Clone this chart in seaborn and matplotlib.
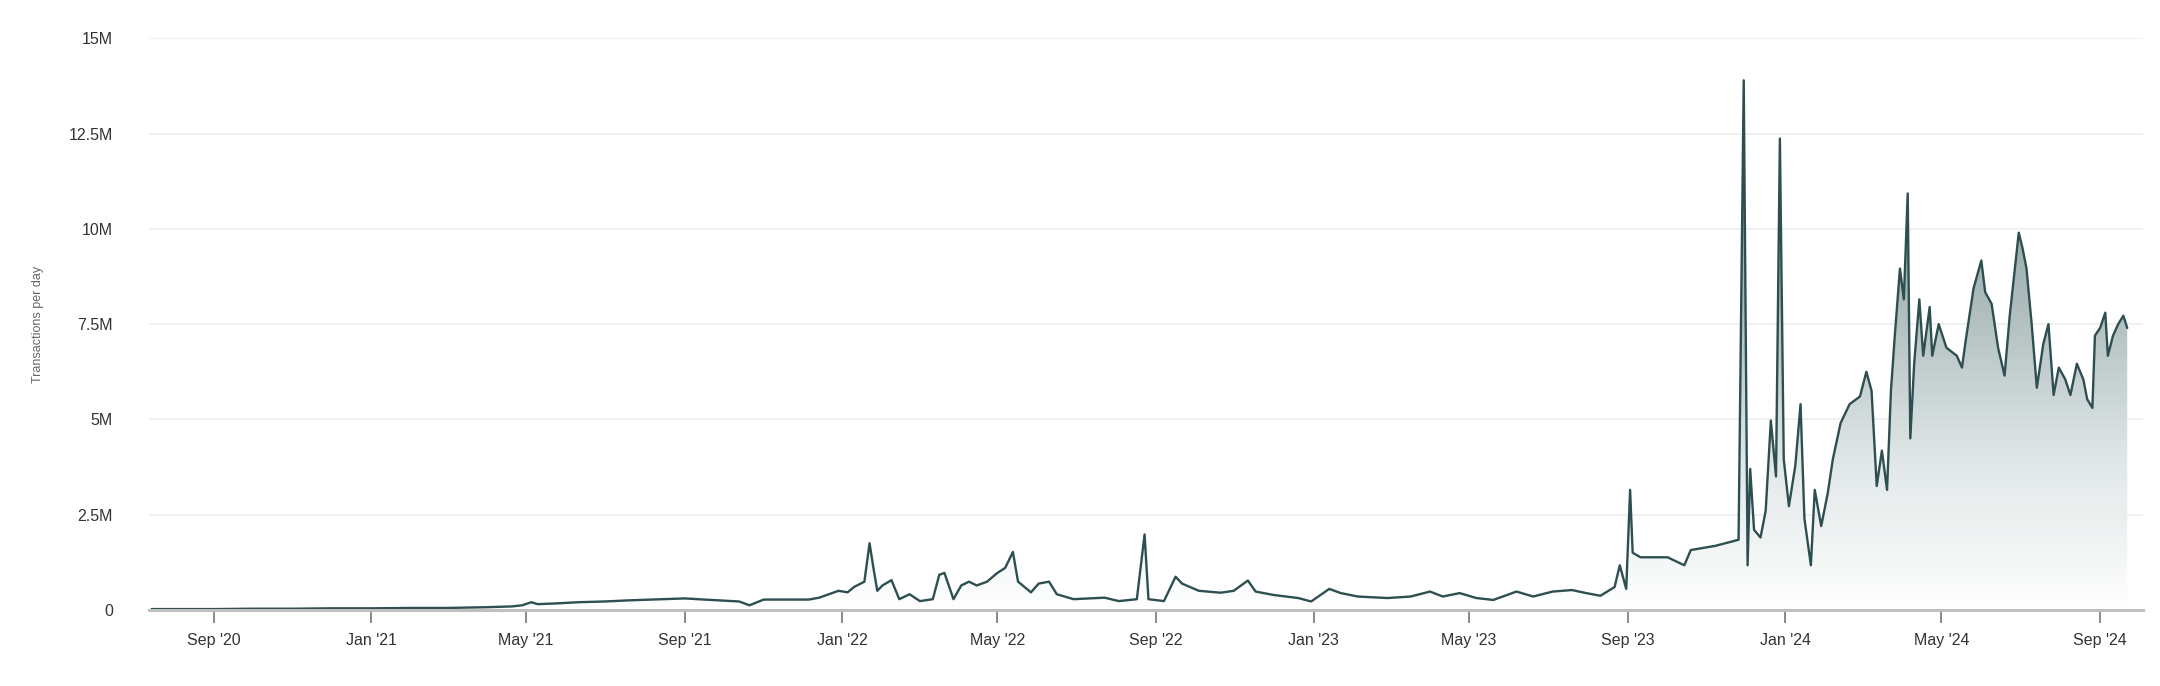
import numpy as np
import pandas as pd
import matplotlib
matplotlib.use("Agg")
import matplotlib.pyplot as plt
import seaborn as sns
from matplotlib.colors import LinearSegmentedColormap

# transactions per day (dates, values in millions)
dates = [
    "2020-07-15", "2020-08-01", "2020-09-01", "2020-10-01", "2020-11-01", "2020-12-01", "2021-01-01",
    "2021-02-01", "2021-03-01", "2021-04-01", "2021-04-20", "2021-04-28", "2021-05-05",
    "2021-05-10", "2021-05-25", "2021-06-10", "2021-07-01", "2021-07-20", "2021-08-07",
    "2021-09-01", "2021-09-16", "2021-10-13", "2021-10-21", "2021-11-01", "2021-12-06",
    "2021-12-14", "2021-12-29", "2022-01-05", "2022-01-10", "2022-01-18", "2022-01-22",
    "2022-01-25", "2022-01-28", "2022-02-01", "2022-02-08", "2022-02-14", "2022-02-22",
    "2022-03-02", "2022-03-12", "2022-03-17", "2022-03-21", "2022-03-28", "2022-04-03",
    "2022-04-09", "2022-04-15", "2022-04-23", "2022-05-01", "2022-05-07", "2022-05-13",
    "2022-05-17", "2022-05-27", "2022-06-02", "2022-06-10", "2022-06-16", "2022-06-29",
    "2022-07-23", "2022-08-03", "2022-08-17", "2022-08-23", "2022-08-26", "2022-09-07",
    "2022-09-16", "2022-09-21", "2022-10-04", "2022-10-21", "2022-10-31", "2022-11-11",
    "2022-11-17", "2022-12-01", "2022-12-20", "2022-12-30", "2023-01-13", "2023-01-22",
    "2023-02-04", "2023-02-27", "2023-03-17", "2023-04-01", "2023-04-11", "2023-04-24",
    "2023-05-07", "2023-05-20", "2023-06-07", "2023-06-20", "2023-07-05", "2023-07-20",
    "2023-07-31", "2023-08-11", "2023-08-22", "2023-08-26", "2023-08-31", "2023-09-03",
    "2023-09-05", "2023-09-11", "2023-10-02", "2023-10-15", "2023-10-20", "2023-11-08",
    "2023-11-26", "2023-11-30", "2023-12-03", "2023-12-05", "2023-12-08", "2023-12-13",
    "2023-12-17", "2023-12-21", "2023-12-25", "2023-12-28", "2023-12-31", "2024-01-04",
    "2024-01-09", "2024-01-13", "2024-01-16", "2024-01-21", "2024-01-24", "2024-01-29",
    "2024-02-03", "2024-02-07", "2024-02-13", "2024-02-20", "2024-02-28", "2024-03-04",
    "2024-03-08", "2024-03-12", "2024-03-16", "2024-03-20", "2024-03-23", "2024-03-26",
    "2024-03-30", "2024-04-02", "2024-04-05", "2024-04-07", "2024-04-10", "2024-04-14",
    "2024-04-17", "2024-04-22", "2024-04-24", "2024-04-29", "2024-05-05", "2024-05-13",
    "2024-05-17", "2024-05-20", "2024-05-26", "2024-06-01", "2024-06-04", "2024-06-09",
    "2024-06-14", "2024-06-19", "2024-06-23", "2024-06-30", "2024-07-03", "2024-07-06",
    "2024-07-10", "2024-07-14", "2024-07-19", "2024-07-23", "2024-07-27", "2024-07-31",
    "2024-08-05", "2024-08-09", "2024-08-14", "2024-08-19", "2024-08-22", "2024-08-26",
    "2024-08-28", "2024-09-01", "2024-09-05", "2024-09-07", "2024-09-11", "2024-09-15",
    "2024-09-19", "2024-09-22",
]
values_m = [
    0.02, 0.02, 0.02, 0.03, 0.03, 0.04, 0.04,
    0.05, 0.05, 0.07, 0.09, 0.12, 0.2,
    0.15, 0.17, 0.2, 0.22, 0.25, 0.27,
    0.3, 0.27, 0.22, 0.12, 0.27, 0.27,
    0.32, 0.5, 0.46, 0.6, 0.74, 1.75,
    1.1, 0.5, 0.64, 0.78, 0.28, 0.41,
    0.23, 0.28, 0.92, 0.97, 0.28, 0.64,
    0.74, 0.64, 0.74, 0.97, 1.1, 1.52,
    0.74, 0.46, 0.69, 0.74, 0.41, 0.28,
    0.32, 0.23, 0.28, 1.98, 0.28, 0.23,
    0.87, 0.69, 0.5, 0.45, 0.5, 0.77,
    0.48, 0.39, 0.31, 0.22, 0.55, 0.44,
    0.35, 0.31, 0.35, 0.48, 0.35, 0.44,
    0.31, 0.26, 0.48, 0.35, 0.48, 0.52,
    0.44, 0.37, 0.6, 1.17, 0.55, 3.15,
    1.5, 1.38, 1.38, 1.17, 1.57, 1.68,
    1.84, 13.9, 1.17, 3.7, 2.1, 1.9,
    2.6, 4.97, 3.5, 12.37, 3.95, 2.72,
    3.8, 5.4, 2.4, 1.17, 3.15, 2.2,
    3.05, 3.95, 4.9, 5.4, 5.6, 6.25,
    5.75, 3.25, 4.18, 3.15, 5.75, 7.2,
    8.96, 8.15, 10.93, 4.5, 6.46, 8.15,
    6.67, 7.95, 6.67, 7.5, 6.88, 6.67,
    6.36, 7.09, 8.44, 9.17, 8.34, 8.03,
    6.88, 6.15, 7.72, 9.9, 9.48, 8.96,
    7.5, 5.83, 6.98, 7.5, 5.64, 6.36,
    6.05, 5.64, 6.46, 6.05, 5.53, 5.3,
    7.2, 7.4, 7.8, 6.67, 7.2, 7.5,
    7.72, 7.4,
]

tick_dates = ["2020-09-01", "2021-01-01", "2021-05-01", "2021-09-01", "2022-01-01",
              "2022-05-01", "2022-09-01", "2023-01-01", "2023-05-01", "2023-09-01",
              "2024-01-01", "2024-05-01", "2024-09-01"]
tick_labels = ["Sep '20", "Jan '21", "May '21", "Sep '21", "Jan '22", "May '22", "Sep '22",
               "Jan '23", "May '23", "Sep '23", "Jan '24", "May '24", "Sep '24"]
y_ticks = [0, 2.5e6, 5e6, 7.5e6, 10e6, 12.5e6, 15e6]
y_labels = ["0", "2.5M", "5M", "7.5M", "10M", "12.5M", "15M"]

df = pd.DataFrame({"date": pd.to_datetime(dates), "tx": np.array(values_m) * 1e6})

sns.set_theme(style="white")
plt.rcParams["font.family"] = ["Liberation Sans", "DejaVu Sans"]

line_col = "#2e4f51"
x_lo, x_hi = pd.Timestamp("2020-07-13"), pd.Timestamp("2024-10-04")

fig = plt.figure(figsize=(21.6, 6.86), dpi=100)
ax = fig.add_axes([0.069, 0.111, 0.923, 0.833])

# gradient area under the line
x0 = matplotlib.dates.date2num(x_lo)
x1 = matplotlib.dates.date2num(x_hi)
poly = ax.fill_between(df["date"], 0, df["tx"], color="none", lw=0)
cmap = LinearSegmentedColormap.from_list("fade", ["#ffffff", "#dfe5e5", "#aab9b9", "#7f9596"])
grad = np.linspace(0, 1, 256).reshape(-1, 1)
img = ax.imshow(grad, cmap=cmap, aspect="auto", origin="lower",
                extent=[x0, x1, 0, 12e6], zorder=1, alpha=0.95)
img.set_clip_path(poly.get_paths()[0], transform=ax.transData)

sns.lineplot(data=df, x="date", y="tx", ax=ax, color=line_col, lw=1.7, zorder=3)

ax.set_xlim(x_lo, x_hi)
ax.set_ylim(0, 15e6)
ax.set_yticks(y_ticks)
ax.set_yticklabels(y_labels)
ax.set_xticks(pd.to_datetime(tick_dates))
ax.set_xticklabels(tick_labels)
ax.grid(axis="y", color="#eeeeee", lw=1.2)
ax.set_axisbelow(True)
for s in ["top", "right", "left"]:
    ax.spines[s].set_visible(False)
ax.spines["bottom"].set_color("#bfbfbf")
ax.spines["bottom"].set_linewidth(2.2)
ax.spines["bottom"].set_zorder(4)
ax.tick_params(axis="x", direction="out", length=9, width=1.2, color="#777777",
               labelsize=11.5, labelcolor="#333333", pad=8, bottom=True)
ax.tick_params(axis="y", length=0, labelsize=11.5, labelcolor="#333333", pad=26)
ax.set_xlabel("")
ax.set_ylabel("Transactions per day", fontsize=9, color="#666666", labelpad=18)

fig.savefig("out.png", dpi=100)
